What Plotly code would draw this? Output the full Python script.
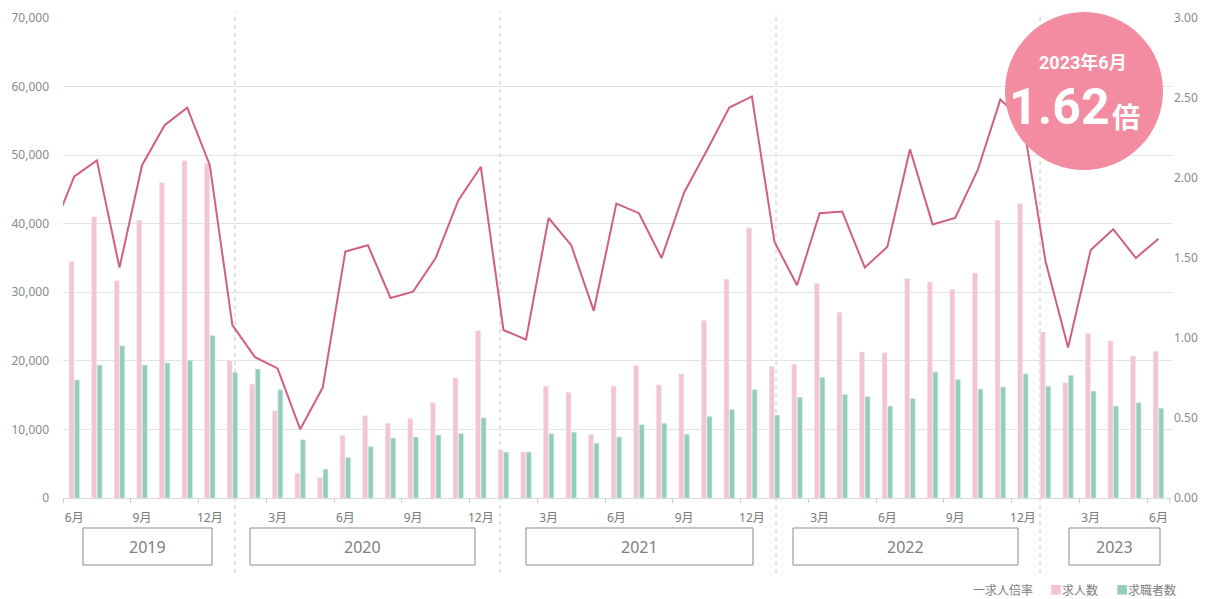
import plotly.graph_objects as go

# ---------------- data ----------------
MONTHS = [
    "2019-05", "2019-06", "2019-07", "2019-08", "2019-09", "2019-10", "2019-11", "2019-12",
    "2020-01", "2020-02", "2020-03", "2020-04", "2020-05", "2020-06", "2020-07", "2020-08",
    "2020-09", "2020-10", "2020-11", "2020-12",
    "2021-01", "2021-02", "2021-03", "2021-04", "2021-05", "2021-06", "2021-07", "2021-08",
    "2021-09", "2021-10", "2021-11", "2021-12",
    "2022-01", "2022-02", "2022-03", "2022-04", "2022-05", "2022-06", "2022-07", "2022-08",
    "2022-09", "2022-10", "2022-11", "2022-12",
    "2023-01", "2023-02", "2023-03", "2023-04", "2023-05", "2023-06",
]
BAR_MONTHS = MONTHS[1:]  # bars start at 2019-06

JOB_OFFERS = [  # 求人数
    34500, 41000, 31700, 40500, 46000, 49200, 48800,
    20000, 16600, 12700, 3600, 3000, 9100, 12000, 10900, 11600, 13900, 17500, 24400,
    7000, 6700, 16300, 15400, 9300, 16300, 19300, 16500, 18100, 25900, 31900, 39400,
    19200, 19500, 31300, 27100, 21300, 21200, 32000, 31500, 30400, 32800, 40500, 42900,
    24200, 16800, 24000, 22900, 20700, 21400,
]
JOB_SEEKERS = [  # 求職者数
    17200, 19400, 22200, 19400, 19700, 20100, 23700,
    18300, 18800, 15800, 8500, 4200, 5900, 7500, 8750, 8900, 9200, 9400, 11700,
    6700, 6700, 9400, 9600, 8000, 8900, 10700, 10900, 9300, 11900, 12900, 15800,
    12100, 14700, 17600, 15100, 14800, 13400, 14500, 18400, 17300, 15900, 16200, 18100,
    16300, 17900, 15600, 13400, 13900, 13100,
]
RATIO = [  # 求人倍率 (from 2019-05)
    1.66, 2.01, 2.11, 1.44, 2.08, 2.33, 2.44, 2.08,
    1.08, 0.88, 0.81, 0.43, 0.69, 1.54, 1.58, 1.25, 1.29, 1.50, 1.86, 2.07,
    1.05, 0.99, 1.75, 1.58, 1.17, 1.84, 1.78, 1.50, 1.91, 2.17, 2.44, 2.51,
    1.60, 1.33, 1.78, 1.79, 1.44, 1.57, 2.18, 1.71, 1.75, 2.05, 2.49, 2.36,
    1.48, 0.94, 1.55, 1.68, 1.50, 1.62,
]

TICK_VALS = ["2019-06", "2019-09", "2019-12", "2020-03", "2020-06", "2020-09", "2020-12",
             "2021-03", "2021-06", "2021-09", "2021-12", "2022-03", "2022-06", "2022-09",
             "2022-12", "2023-03", "2023-06"]
TICK_TEXT = ["6月", "9月", "12月", "3月", "6月", "9月", "12月", "3月", "6月", "9月", "12月",
             "3月", "6月", "9月", "12月", "3月", "6月"]

YEARS = ["2019", "2020", "2021", "2022", "2023"]
SERIES_NAMES = ["求人倍率", "求人数", "求職者数"]
BADGE_TITLE = "2023年6月"
BADGE_VALUE = "1.62"
BADGE_UNIT = "倍"

# ---------------- layout helpers (pixel geometry, page coordinates) ----------------
PAGE_OFFSET = 8            # default body margin of the html page
W, H = 1211 - PAGE_OFFSET, 599 - PAGE_OFFSET
PL, PR, PT, PB = 63, 1172, 18, 498  # plot area in page pixels


def px(x):
    return (x - PL) / (PR - PL)


def py(y):
    return (PB - y) / (PB - PT)


YEAR_BOXES = [(83, 212), (250, 475), (526, 753), (793, 1018), (1069, 1160)]
BOX_TOP, BOX_BOTTOM = 528, 565
DIVIDERS = [235, 500, 776, 1040]
LEGEND_X = [972, 1049, 1115]
LEGEND_Y = 589

PINK = "#F5C4D0"
GREEN = "#93CDBD"
LINE = "#D0607E"
BADGE = "#F38CA0"
TXT = "#7a7a7a"
FONT = "Noto Sans, Noto Sans CJK JP, sans-serif"
BADGE_FONT = "Roboto, Noto Sans CJK JP"

fig = go.Figure()
fig.add_trace(go.Bar(x=BAR_MONTHS, y=JOB_OFFERS, name=SERIES_NAMES[1], marker_color=PINK))
fig.add_trace(go.Bar(x=BAR_MONTHS, y=JOB_SEEKERS, name=SERIES_NAMES[2], marker_color=GREEN))
fig.add_trace(go.Scatter(
    x=MONTHS, y=RATIO, name=SERIES_NAMES[0], mode="lines", yaxis="y2",
    line=dict(color=LINE, width=2),
))

shapes = []
for x in DIVIDERS:
    shapes.append(dict(type="line", xref="paper", yref="paper", x0=px(x), x1=px(x),
                       y0=py(573), y1=py(12),
                       line=dict(color="#c4c4c4", width=1, dash="4px,4px"),
                       layer="below"))
annotations = []
for (x0, x1), label in zip(YEAR_BOXES, YEARS):
    shapes.append(dict(type="rect", xref="paper", yref="paper", x0=px(x0), x1=px(x1),
                       y0=py(BOX_BOTTOM), y1=py(BOX_TOP), line=dict(color="#8a8a8a", width=1),
                       fillcolor="white", layer="above"))
    annotations.append(dict(xref="paper", yref="paper", x=px((x0 + x1) / 2), y=py((BOX_TOP + BOX_BOTTOM) / 2),
                            text=label, showarrow=False, xanchor="center", yanchor="middle",
                            font=dict(family=FONT, size=16, color="#808080")))

# legend (drawn as text: dash / coloured squares)
legend_marks = ["一", f"<span style='color:{PINK}'>■</span>", f"<span style='color:{GREEN}'>■</span>"]
for x, mark, name in zip(LEGEND_X, legend_marks, SERIES_NAMES):
    annotations.append(dict(xref="paper", yref="paper", x=px(x), y=py(LEGEND_Y),
                            text=mark + name, showarrow=False, xanchor="left", yanchor="middle",
                            borderpad=0,
                            font=dict(family="Noto Sans CJK JP", size=12, color="#808080")))

# badge circle
shapes.append(dict(type="circle", xref="paper", yref="paper", x0=px(1005), x1=px(1163),
                   y0=py(170), y1=py(12), fillcolor=BADGE, line=dict(width=0), layer="above"))
annotations.append(dict(xref="paper", yref="paper", x=px(1083), y=py(62), text=BADGE_TITLE,
                        showarrow=False, xanchor="center", yanchor="middle",
                        font=dict(family=BADGE_FONT, size=18, color="white", weight="bold")))
annotations.append(dict(xref="paper", yref="paper", x=px(1112), y=py(107), text=BADGE_VALUE,
                        showarrow=False, xanchor="right", yanchor="middle",
                        font=dict(family=BADGE_FONT, size=50, color="white", weight="bold")))
annotations.append(dict(xref="paper", yref="paper", x=px(1110), y=py(116), text=BADGE_UNIT,
                        showarrow=False, xanchor="left", yanchor="middle",
                        font=dict(family="Noto Sans CJK JP", size=28, color="white",
                                  weight="bold")))

fig.update_layout(
    width=W, height=H,
    margin=dict(l=PL - PAGE_OFFSET, r=1211 - PR, t=PT - PAGE_OFFSET, b=599 - PB,
                autoexpand=False),
    paper_bgcolor="white", plot_bgcolor="white",
    barmode="group", bargap=0.51, bargroupgap=0.1,
    font=dict(family=FONT, size=12, color=TXT),
    shapes=shapes, annotations=annotations,
    showlegend=False,
    xaxis=dict(
        type="category", categoryorder="array", categoryarray=MONTHS,
        range=[0.5, 49.6], tickmode="array", tickvals=TICK_VALS, ticktext=TICK_TEXT,
        tickson="boundaries", ticks="outside", ticklen=4, tickcolor="#cccccc",
        tickangle=0, showgrid=False, showline=True, linecolor="#d9d9d9", linewidth=1,
        tickfont=dict(size=12, color=TXT), ticklabelstandoff=9,
    ),
    yaxis=dict(
        range=[0, 70000], dtick=10000, tickformat=",", showgrid=True,
        gridcolor="#e3e3e3", gridwidth=1, zeroline=False, showline=False,
        tickfont=dict(size=12, color="#8a8a8a"), ticklabelstandoff=13,
    ),
    yaxis2=dict(
        range=[0, 3], dtick=0.5, tickformat=".2f", overlaying="y", side="right",
        showgrid=False, zeroline=False, showline=False,
        tickfont=dict(size=12, color="#8a8a8a"), ticklabelstandoff=1,
    ),
)

fig.write_html("out.html")
